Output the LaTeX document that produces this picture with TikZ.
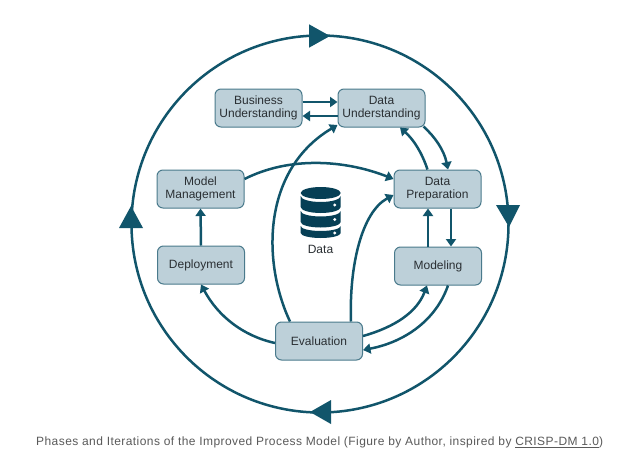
\documentclass[tikz,border=0pt]{standalone}
\usepackage{fontspec}
\setmainfont{Liberation Sans}
\usetikzlibrary{arrows.meta,calc}
\definecolor{lnk}{HTML}{11556B}
\definecolor{boxf}{HTML}{BDD0D9}
\definecolor{boxd}{HTML}{4A7A8C}
\definecolor{cyl}{HTML}{063F55}
\definecolor{capt}{HTML}{5A5A5A}
\definecolor{txt}{HTML}{2A2F33}
\tikzset{
  phase/.style={draw=boxd,line width=1pt,fill=boxf,rounded corners=6pt,minimum width=87pt,minimum height=38pt,inner sep=0pt,align=center,font=\fontsize{12}{13}\selectfont,text=txt},
  flow/.style={draw=lnk,line width=2.5pt,-{Triangle[length=7.5pt,width=10pt]}},
  ring/.style={draw=lnk,line width=2.5pt},
  bighead/.style={fill=lnk,draw=none},
  diskband/.style={fill=cyl,draw=none}
}
\newcommand{\diskband}[3]{% side top y, side bottom y, vertical radius
 \fill[diskband] (-20,#1) arc[start angle=180,end angle=0,x radius=20,y radius=#3] -- (20,#2) arc[start angle=0,end angle=180,x radius=20,y radius=#3] -- cycle;}
\begin{document}
\begin{tikzpicture}[x=1pt,y=-1pt]
\useasboundingbox (0,0) rectangle (636,463);
\fill[white] (0,0) rectangle (636,463);
% outer cycle
\coordinate (cc) at (320,224);
\draw[ring] (cc) circle (188.5);
\fill[bighead] (309,24.3) -- (330,36) -- (309,47.7) -- cycle;
\fill[bighead] (496,205) -- (520,205) -- (509,227) -- cycle;
\fill[bighead] (331,400) -- (331,424) -- (310,412) -- cycle;
\fill[bighead] (119,228) -- (143,228) -- (131,206) -- cycle;
% phases
\node[phase] (bu) at (258.5,108) {\raisebox{-1.8pt}{Business}\\\raisebox{-1.8pt}{Understanding}};
\node[phase] (du) at (381.5,108) {\raisebox{-1.8pt}{Data}\\\raisebox{-1.8pt}{Understanding}};
\node[phase] (mm) at (200.5,189) {\raisebox{-1.8pt}{Model}\\\raisebox{-1.8pt}{Management}};
\node[phase] (dp) at (437.5,189) {\raisebox{-1.8pt}{Data}\\\raisebox{-1.8pt}{Preparation}};
\node[phase] (de) at (201,265) {Deployment};
\node[phase] (mo) at (438,266) {Modeling};
\node[phase] (ev) at (319,341) {Evaluation};
% data store
\node[font=\fontsize{12}{13}\selectfont,text=txt,inner sep=0pt] (dl) at (320.5,249) {Data};
\begin{scope}[shift={(320.7,0)}]
 \fill[diskband] (0,193) ellipse[x radius=20,y radius=6];
 \diskband{196}{207}{6}
 \diskband{211}{222}{5.5}
 \diskband{226}{233}{5}
 \fill[white] (14,205) circle (1.7) (14,219.5) circle (1.7) (14,233) circle (1.7);
\end{scope}
% connectors
\draw[flow] ([yshift=6pt]bu.east) -- ([yshift=6pt]du.west);
\draw[flow] ([yshift=-8pt]du.west) -- ([yshift=-8pt]bu.east);
\draw[flow] ([xshift=-29pt]ev.north) .. controls (262,262) and (262,170) .. ([yshift=-17pt]du.west);
\draw[flow] ([xshift=32pt]ev.north) .. controls (349,265) and (362,212) .. ([yshift=-6pt]dp.west);
\draw[flow] ([yshift=10pt]mm.east) .. controls (290,156) and (345,160) .. ([yshift=10pt]dp.west);
\draw[flow] ([xshift=-10pt]dp.north) .. controls (422,153) and (414,140) .. ([xshift=18.5pt]du.south);
\draw[flow] ([xshift=42pt,yshift=1pt]du.south) .. controls (435,137) and (444,150) .. ([xshift=10.5pt]dp.north);
\draw[flow] ([xshift=-10pt]mo.north) -- ([xshift=-9.5pt]dp.south);
\draw[flow] ([xshift=13.5pt]dp.south) -- ([xshift=13pt]mo.north);
\draw[flow] (de.north) -- (mm.south);
\draw[flow] ([yshift=-2pt]ev.west) .. controls (243,336) and (218,316) .. (de.south);
\draw[flow] ([yshift=5pt]ev.east) .. controls (395,327) and (417,312) .. ([xshift=-11pt]mo.south);
\draw[flow] ([xshift=10pt]mo.south) .. controls (436,320) and (405,342) .. ([yshift=-9pt]ev.east);
% caption
\node[anchor=west,inner sep=0pt,text=capt,font=\fontsize{12}{13}\selectfont\addfontfeature{LetterSpace=3.6}] (cap) at (36,442.5) {Phases and Iterations of the Improved Process Model (Figure by Author, inspired by \underline{CRISP-DM 1.0})};
\end{tikzpicture}
\end{document}
